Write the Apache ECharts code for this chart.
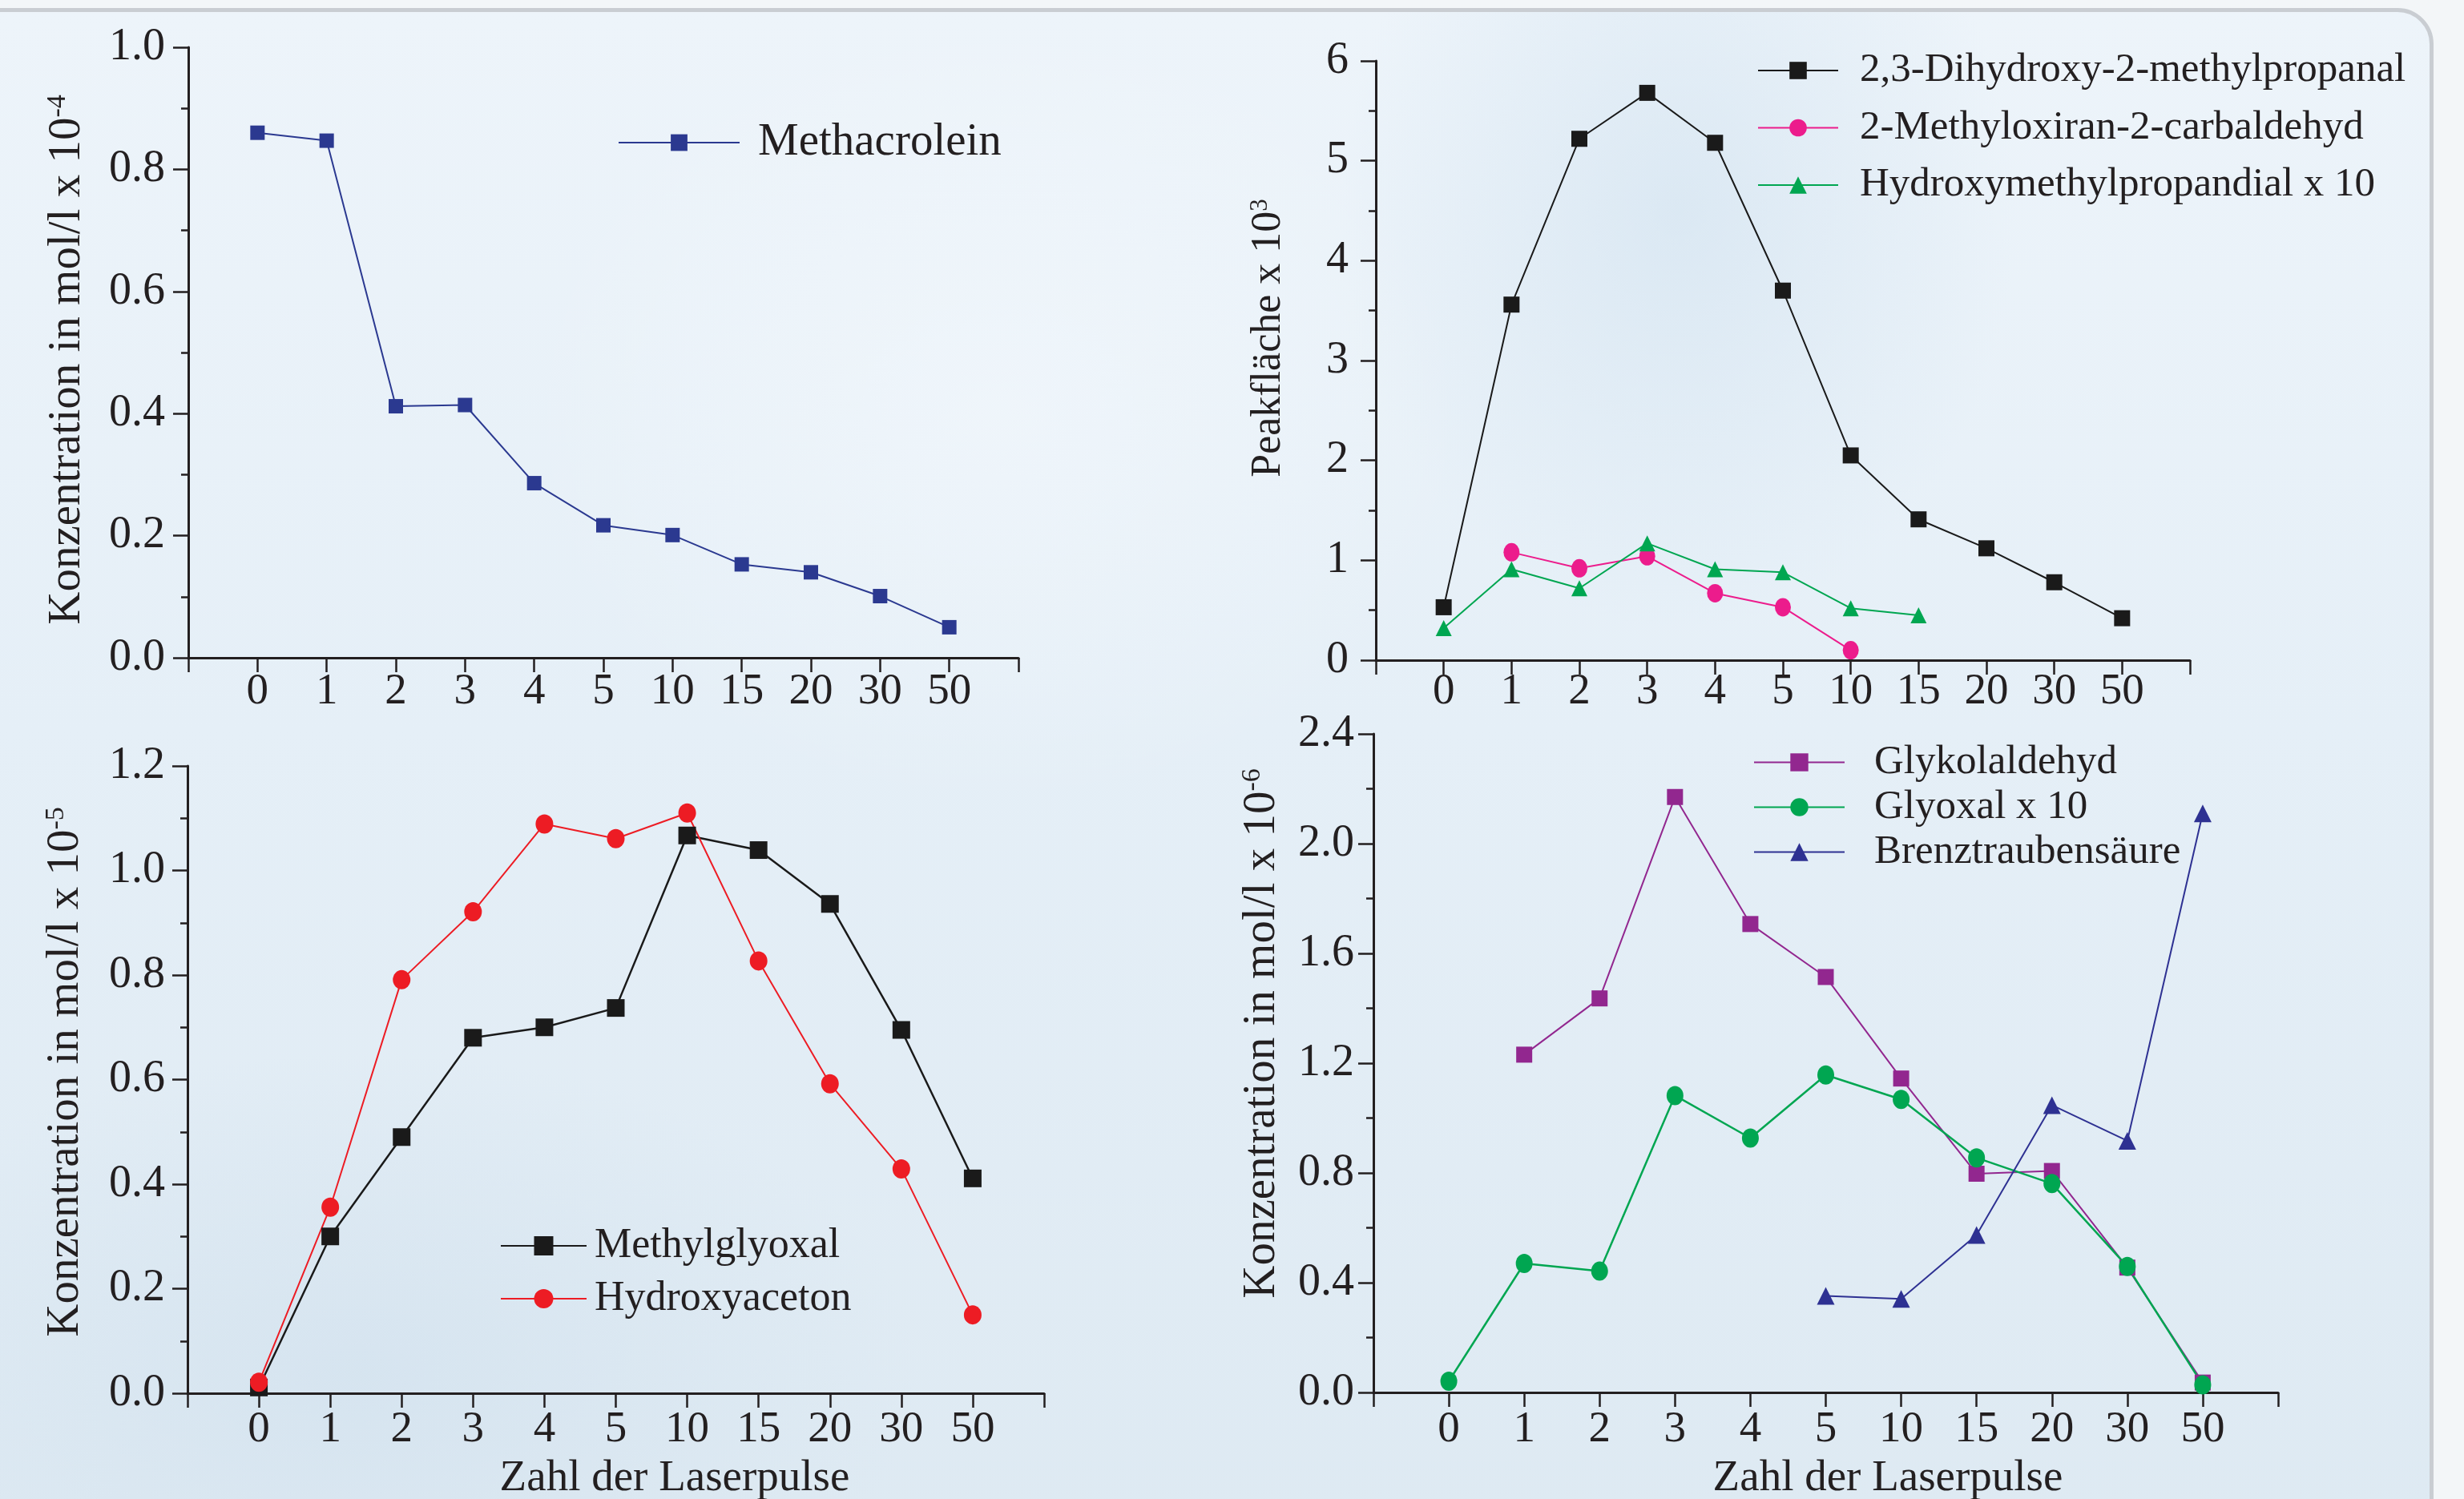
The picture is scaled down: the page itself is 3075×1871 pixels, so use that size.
<!DOCTYPE html>
<html>
<head>
<meta charset="utf-8">
<script src="https://cdn.jsdelivr.net/npm/echarts@6/dist/echarts.min.js"></script>
<style>
html,body{margin:0;padding:0;width:3075px;height:1871px;overflow:hidden;background:#f3f6f8;}
#frame{position:absolute;left:-60px;top:10px;width:3097px;height:2000px;box-sizing:border-box;border:5px solid #c9cdd2;border-radius:45px;
background:
 radial-gradient(ellipse 420px 520px at 2150px 250px, rgba(200,220,236,0.45), rgba(200,220,236,0) 100%),
 radial-gradient(ellipse 700px 400px at 500px 1700px, rgba(205,222,236,0.5), rgba(205,222,236,0) 100%),
 radial-gradient(ellipse 600px 500px at 1300px 500px, rgba(250,252,255,0.35), rgba(250,252,255,0) 100%),
 linear-gradient(180deg,#edf4fa 0%,#e5eff7 45%,#dde9f2 100%);}
#chart{position:absolute;left:0;top:0;width:3075px;height:1871px;}
</style>
</head>
<body>
<div id="frame"></div>
<div id="chart"></div>
<script>
const cats = ['0','1','2','3','4','5','10','15','20','30','50'];
const methacrolein = [0.86,0.847,0.412,0.414,0.286,0.217,0.201,0.153,0.140,0.101,0.050];
const dihydroxy = [0.53,3.56,5.22,5.68,5.18,3.70,2.05,1.41,1.12,0.78,0.42];
const methyloxiran = [null,1.08,0.92,1.04,0.67,0.53,0.10,null,null,null,null];
const hydroxymethylpropandial = [0.32,0.91,0.72,1.17,0.91,0.88,0.52,0.45,null,null,null];
const methylglyoxal = [0.011,0.30,0.49,0.68,0.70,0.737,1.067,1.039,0.936,0.695,0.411];
const hydroxyaceton = [0.021,0.356,0.791,0.921,1.089,1.061,1.110,0.827,0.592,0.429,0.150];
const glykolaldehyd = [null,1.231,1.436,2.17,1.707,1.514,1.144,0.797,0.807,0.455,0.036];
const glyoxal = [0.041,0.47,0.442,1.082,0.927,1.157,1.068,0.855,0.761,0.459,0.028];
const brenztraubensaeure = [null,null,null,null,null,0.352,0.341,0.574,1.047,0.917,2.11];

const FF = "'Liberation Serif','Times New Roman',serif";
const INK = '#231f20';
const axisCats = [''].concat(cats, ['']);
const pad = arr => [null].concat(arr, [null]);

const grids = [
  {left:235, top:59, width:1036, height:762},
  {left:1717, top:76, width:1016, height:748},
  {left:234, top:956, width:1069, height:783},
  {left:1714, top:916, width:1129, height:822}
];
const xMargins = [15, 12, 18, 19];
const yMargins = [29, 34, 28, 24];
const yRanges = [[0,1.0,0.2,1],[0,6,1,0],[0,1.2,0.2,1],[0,2.4,0.4,1]];

const xAxes = grids.map((g,i)=>({
  type:'category', gridIndex:i, data:axisCats, boundaryGap:false,
  axisLine:{lineStyle:{color:INK,width:3}},
  axisTick:{show:true,interval:0,length:18,lineStyle:{color:INK,width:2.5}},
  axisLabel:{interval:0,margin:xMargins[i],fontFamily:FF,fontSize:55,color:INK,lineHeight:56},
  splitLine:{show:false}
}));
const yAxes = yRanges.map((r,i)=>({
  type:'value', gridIndex:i, min:r[0], max:r[1], interval:r[2],
  axisLine:{show:true,lineStyle:{color:INK,width:3}},
  axisTick:{show:true,length:19,lineStyle:{color:INK,width:2.5}},
  minorTick:{show:true,splitNumber:2,length:9,lineStyle:{color:INK,width:2.5}},
  axisLabel:{margin:yMargins[i],fontFamily:FF,fontSize:56,color:INK,
    formatter:v=>r[3]?v.toFixed(r[3]):String(v)},
  splitLine:{show:false}
}));

function ser(name, data, gi, color, symbol, size, lw){
  return {name, type:'line', xAxisIndex:gi, yAxisIndex:gi, data:pad(data),
    symbol, symbolSize:size, showSymbol:true, connectNulls:false,
    lineStyle:{color, width:lw}, itemStyle:{color}, emphasis:{disabled:true}};
}
const series = [
  ser('Methacrolein', methacrolein, 0, '#2b3990', 'rect', 18, 2),
  ser('2,3-Dihydroxy-2-methylpropanal', dihydroxy, 1, '#1a1a1a', 'rect', 20, 2),
  ser('2-Methyloxiran-2-carbaldehyd', methyloxiran, 1, '#ec1c8c', 'circle', [20,23], 2),
  ser('Hydroxymethylpropandial x 10', hydroxymethylpropandial, 1, '#00a651', 'triangle', 20, 2),
  ser('Methylglyoxal', methylglyoxal, 2, '#1a1a1a', 'rect', 22, 2.5),
  ser('Hydroxyaceton', hydroxyaceton, 2, '#ed1c24', 'circle', [22,24], 2),
  ser('Glykolaldehyd', glykolaldehyd, 3, '#92278f', 'rect', 20, 2),
  ser('Glyoxal x 10', glyoxal, 3, '#00a651', 'circle', [21,24], 2.5),
  ser('Brenztraubensäure', brenztraubensaeure, 3, '#2e3192', 'triangle', 22, 2)
];

function leg(names, left, top, itemWidth, itemHeight, fontSize, lineHeight, gap, padLeft){
  return {data:names, orient:'vertical', left, top, itemWidth, itemHeight, itemGap:gap,
    selectedMode:false, padding:0,
    textStyle:{fontFamily:FF,fontSize,color:INK,lineHeight,padding:[0,0,0,padLeft]}};
}
const legends = [
  leg(['Methacrolein'], 771, 148, 151, 26, 57, 60, 0, 18),
  leg(['2,3-Dihydroxy-2-methylpropanal','2-Methyloxiran-2-carbaldehyd','Hydroxymethylpropandial x 10'], 2193, 60, 100, 27, 51, 56, 15.5, 22),
  leg(['Methylglyoxal','Hydroxyaceton'], 624, 1528, 107, 30, 52, 54, 12, 5),
  leg(['Glykolaldehyd','Glyoxal x 10','Brenztraubensäure'], 2188, 926, 113, 28, 51, 50, 5, 32)
];

function yTitle(x, y, main, sup, fs){
  return {type:'text', x, y, rotation:Math.PI/2, z:10,
    style:{text:'{m|'+main+'}{s|'+sup+'}', align:'center', verticalAlign:'middle',
      rich:{m:{fontSize:fs,fontFamily:FF,fill:INK},
            s:{fontSize:Math.round(fs*0.6),fontFamily:FF,fill:INK,verticalAlign:'top'}}}};
}
function xTitle(x, y){
  return {type:'text', x, y, z:10,
    style:{text:'Zahl der Laserpulse', fontSize:55, fontFamily:FF, fill:INK, align:'center', verticalAlign:'middle'}};
}
const graphics = [
  yTitle(84, 449, 'Konzentration in mol/l x 10', '-4', 57),
  yTitle(1583, 422, 'Peakfläche x 10', '3', 52),
  yTitle(82, 1338, 'Konzentration in mol/l x 10', '-5', 57),
  yTitle(1575, 1290, 'Konzentration in mol/l x 10', '-6', 57),
  xTitle(842, 1846),
  xTitle(2356, 1846)
];

const chart = echarts.init(document.getElementById('chart'), null, {renderer:'canvas'});
chart.setOption({
  animation:false,
  backgroundColor:'transparent',
  grid:grids, xAxis:xAxes, yAxis:yAxes, series, legend:legends, graphic:graphics
});
</script>
</body>
</html>
